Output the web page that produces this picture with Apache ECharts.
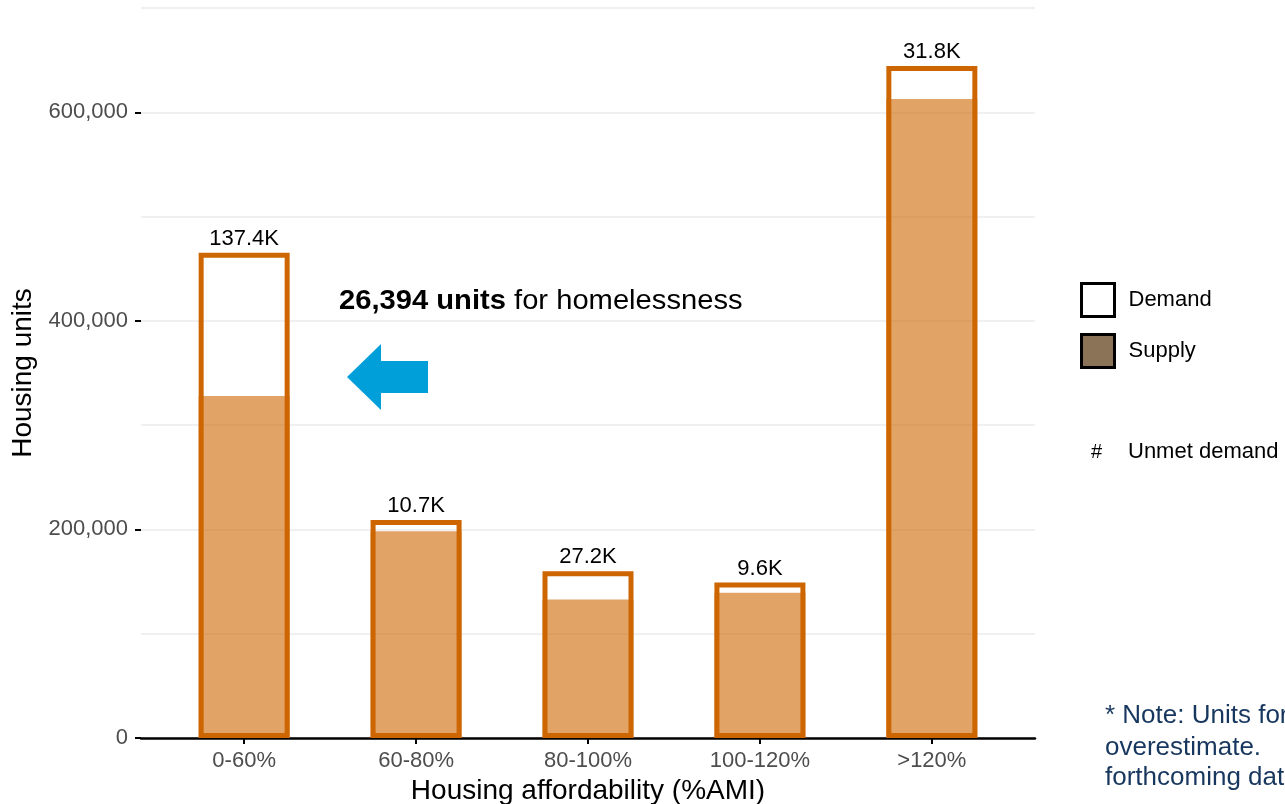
<!DOCTYPE html>
<html>
<head>
<meta charset="utf-8">
<script src="https://cdn.jsdelivr.net/npm/echarts@6/dist/echarts.min.js"></script>
<style>
  html, body { margin: 0; padding: 0; background: #fff; }
  #housing-gap { width: 1285px; height: 804px; }
</style>
</head>
<body>
<div id="housing-gap"></div>
<script>
// housing units by affordability band (%AMI)
const categories = ['0-60%', '60-80%', '80-100%', '100-120%', '>120%']
const demand = [465400, 209000, 160000, 149000, 644500]
const supply = [328000, 198300, 132800, 139400, 612700]
const unmetLabels = ['137.4K', '10.7K', '27.2K', '9.6K', '31.8K']
const yTicks = [0, 200000, 400000, 600000]

const FONT = 'Liberation Sans'
const ORANGE = '#cd6600'

const positions = categories.map((c, i) => i + 1)
const demandData = demand.map((v, i) => [positions[i], v])
const supplyData = supply.map((v, i) => [positions[i], v])

const myChart = echarts.init(document.getElementById('housing-gap'))
const option = {
  animation: false,
  textStyle: { fontFamily: FONT },
  grid: {
    left: 141,
    right: 250,
    top: 8,
    bottom: 66,
    containLabel: false,
    outerBoundsMode: 'none'
  },
  legend: {
    orient: 'vertical',
    left: 1075,
    top: 277,
    itemWidth: 33,
    itemHeight: 33,
    itemGap: 15,
    icon: 'rect',
    textStyle: { fontSize: 22, color: '#000', padding: [0, 0, 0, 9] },
    data: [
      { name: 'Demand', itemStyle: { color: '#fff', borderColor: '#000', borderWidth: 3 } },
      { name: 'Supply', itemStyle: { color: '#8b7358', borderColor: '#000', borderWidth: 3 } }
    ]
  },
  xAxis: {
    type: 'value',
    min: 0.4,
    max: 5.6,
    name: 'Housing affordability (%AMI)',
    nameLocation: 'middle',
    nameGap: 39,
    nameTextStyle: { fontSize: 28, color: '#000' },
    splitLine: { show: false },
    axisLine: { show: true, lineStyle: { color: '#000', width: 2.5 } },
    axisTick: {
      show: true,
      customValues: positions,
      length: 6,
      lineStyle: { color: '#000', width: 2 }
    },
    axisLabel: {
      customValues: positions,
      margin: 12,
      fontSize: 22,
      color: '#4d4d4d',
      formatter: v => categories[Math.round(v) - 1] || ''
    }
  },
  yAxis: [
    {
      // gridlines every 100k
      type: 'value',
      min: 0,
      max: 700000,
      interval: 100000,
      axisLine: { show: false },
      axisTick: { show: false },
      axisLabel: { show: false },
      splitLine: { show: true, lineStyle: { color: '#ebebeb', width: 1.5 } }
    },
    {
      // labels + ticks every 200k
      type: 'value',
      position: 'left',
      min: 0,
      max: 700000,
      interval: 200000,
      name: 'Housing units',
      nameLocation: 'middle',
      nameGap: 99,
      nameTextStyle: { fontSize: 28, color: '#000' },
      axisLine: { show: false },
      splitLine: { show: false },
      axisTick: {
        show: true,
        customValues: yTicks,
        length: 6,
        lineStyle: { color: '#000', width: 2 }
      },
      axisLabel: {
        customValues: yTicks,
        margin: 13,
        fontSize: 22,
        color: '#4d4d4d',
        formatter: v => (v % 200000 === 0 ? v.toLocaleString('en-US') : '')
      }
    }
  ],
  series: [
    {
      name: 'Supply',
      type: 'bar',
      data: supplyData,
      barWidth: 91,
      barGap: '-100%',
      itemStyle: { color: 'rgba(205,102,0,0.6)' }
    },
    {
      name: 'Demand',
      type: 'bar',
      data: demandData,
      barWidth: 91,
      barGap: '-100%',
      itemStyle: {
        color: 'rgba(255,255,255,0)',
        borderColor: ORANGE,
        borderWidth: 5
      },
      label: {
        show: true,
        position: 'top',
        distance: 3,
        fontSize: 22,
        color: '#000',
        formatter: p => unmetLabels[p.dataIndex]
      }
    }
  ],
  graphic: [
    {
      type: 'text',
      x: 339,
      y: 302,
      scaleX: 1.08,
      style: {
        text: '{b|26,394 units} for homelessness',
        fontFamily: FONT,
        fontSize: 27,
        fill: '#000',
        verticalAlign: 'middle',
        rich: {
          b: { fontFamily: FONT, fontSize: 27, fontWeight: 'bold', fill: '#000' }
        }
      }
    },
    {
      type: 'polygon',
      shape: {
        points: [[347, 377], [381, 344], [381, 361], [428, 361], [428, 393], [381, 393], [381, 410]]
      },
      style: { fill: '#009fda' }
    },
    {
      type: 'text',
      x: 1091,
      y: 452,
      style: { text: '#', fontFamily: FONT, fontSize: 20, fill: '#000', verticalAlign: 'middle' }
    },
    {
      type: 'text',
      x: 1128,
      y: 452,
      style: { text: 'Unmet demand', fontFamily: FONT, fontSize: 22, fill: '#000', verticalAlign: 'middle' }
    },
    {
      type: 'text',
      x: 1105,
      y: 716,
      style: { text: '* Note: Units for homelessness may be an', fontFamily: FONT, fontSize: 26, fill: '#17375e', verticalAlign: 'middle' }
    },
    {
      type: 'text',
      x: 1105,
      y: 748,
      style: { text: 'overestimate.', fontFamily: FONT, fontSize: 26, fill: '#17375e', verticalAlign: 'middle' }
    },
    {
      type: 'text',
      x: 1105,
      y: 778,
      style: { text: 'forthcoming data.', fontFamily: FONT, fontSize: 26, fill: '#17375e', verticalAlign: 'middle' }
    }
  ]
}
option && myChart.setOption(option)
window.addEventListener('resize', function () {
  myChart.resize()
})
</script>
</body>
</html>
